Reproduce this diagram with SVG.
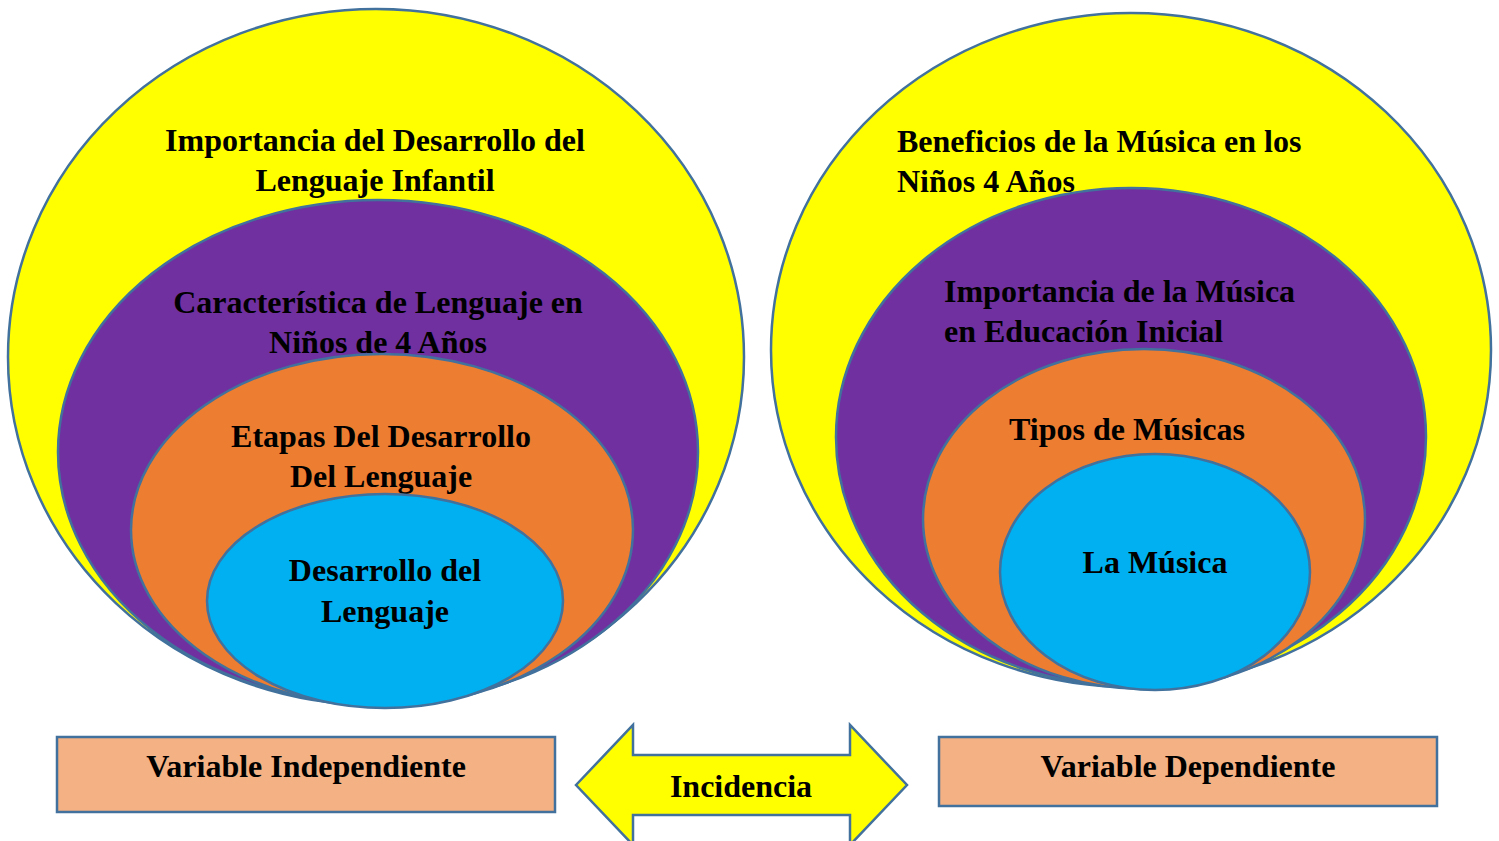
<svg xmlns="http://www.w3.org/2000/svg" width="1499" height="841" viewBox="0 0 1499 841">
<style>
.s{stroke:#41719C;stroke-width:2.5}
.y{fill:#FFFF00}.p{fill:#7030A0}.o{fill:#ED7D31}.b{fill:#00B0F0}.r{fill:#F4B183}
text{font-family:"Liberation Serif","Times New Roman",serif;font-weight:bold;font-size:32px;fill:#000}
.c{text-anchor:middle}
</style>
<rect width="1499" height="841" fill="#fff"/>
<g id="left-set">
<g id="n-importancia-desarrollo"><ellipse class="s y" cx="376" cy="357" rx="368" ry="348"/>
<text class="c" x="375" y="151">Importancia del Desarrollo del</text><text class="c" x="375" y="191">Lenguaje Infantil</text></g>
<g id="n-caracteristica"><ellipse class="s p" cx="378" cy="452" rx="320" ry="252"/>
<text class="c" x="378" y="313">Característica de Lenguaje en</text><text class="c" x="378" y="353">Niños de 4 Años</text></g>
<g id="n-etapas"><ellipse class="s o" cx="382" cy="530" rx="251" ry="176"/>
<text class="c" x="381" y="447">Etapas Del Desarrollo</text><text class="c" x="381" y="487">Del Lenguaje</text></g>
<g id="n-desarrollo"><ellipse class="s b" cx="385" cy="601" rx="178" ry="107"/>
<text class="c" x="385" y="581">Desarrollo del</text><text class="c" x="385" y="622">Lenguaje</text></g>
</g>
<g id="right-set">
<g id="n-beneficios"><ellipse class="s y" cx="1131" cy="350" rx="360" ry="337"/>
<text x="897" y="152">Beneficios de la Música en los</text><text x="897" y="192">Niños 4 Años</text></g>
<g id="n-importancia-musica"><ellipse class="s p" cx="1131" cy="437" rx="295" ry="249"/>
<text x="944" y="302">Importancia de la Música</text><text x="944" y="342">en Educación Inicial</text></g>
<g id="n-tipos"><ellipse class="s o" cx="1144" cy="519" rx="221" ry="170"/>
<text class="c" x="1127" y="440">Tipos de Músicas</text></g>
<g id="n-musica"><ellipse class="s b" cx="1155" cy="572" rx="155" ry="118"/>
<text class="c" x="1155" y="573">La Música</text></g>
</g>
<g id="n-var-indep"><rect class="s r" x="57" y="737" width="498" height="75"/>
<text class="c" x="306" y="777">Variable Independiente</text></g>
<g id="n-var-dep"><rect class="s r" x="939" y="737" width="498" height="69"/>
<text class="c" x="1188" y="777">Variable Dependiente</text></g>
<g id="connectors">
<polygon class="s y" points="576,785 633,725 633,755 850,755 850,725 907,785 850,845 850,815 633,815 633,845"/>
<text class="c" x="741" y="797">Incidencia</text>
</g>
</svg>
